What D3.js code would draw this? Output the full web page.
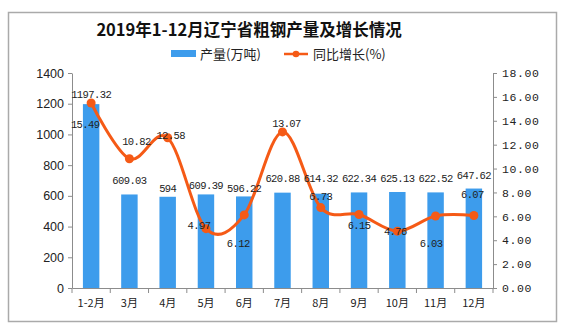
<!DOCTYPE html>
<html><head><meta charset="utf-8">
<script src="https://cdn.jsdelivr.net/npm/d3@7/dist/d3.min.js"></script>
<style>
html,body{margin:0;padding:0;background:#fff;}
svg{display:block;}
</style></head>
<body>
<svg id="chart" width="567" height="331"></svg>
<script>
const categories = ["1-2月","3月","4月","5月","6月","7月","8月","9月","10月","11月","12月"];
const production = [1197.32,609.03,594,609.39,596.22,620.88,614.32,622.34,625.13,622.52,647.62];
const growth = [15.49,10.82,12.58,4.97,6.12,13.07,6.73,6.15,4.76,6.03,6.07];
const leftTicks = [0,200,400,600,800,1000,1200,1400];
const rightTicks = [0,2,4,6,8,10,12,14,16,18];
const title = "2019年1-12月辽宁省粗钢产量及增长情况";
const legendBar = "产量(万吨)";
const legendLine = "同比增长(%)";

// label layout (offsets of label centres from their mark)
const barLabelDy = [-10,-14.5,-8.5,-9.5,-8,-14.5,-15,-14,-13.7,-14,-13.5];
const lineLabelDx = [-6,7,3,-7,-6,4,0,0,-2,-4.5,-1.5];
const lineLabelDy = [21,-17,-2,-3,28,-8.5,-11.5,11,0.5,27,-21.5];

const barColor = "#3d9cec";
const lineColor = "#f55a16";
const axisColor = "#8c8c8c";

const svg = d3.select("#chart");
const pLeft = 72, pRight = 493, pTop = 73, pBottom = 288;

// frame
svg.append("rect").attr("x",8.5).attr("y",12.5).attr("width",548).attr("height",309)
  .attr("fill","#fff").attr("stroke","#aaaaaa").attr("stroke-width",1.5);

const x = d3.scaleBand().domain(categories).range([pLeft,pRight]).paddingInner(0.57).paddingOuter(0.285);
const yL = d3.scaleLinear().domain([0,1400]).range([pBottom,pTop]);
const yR = d3.scaleLinear().domain([0,18]).range([pBottom,pTop]);

// title
svg.append("text").attr("x",249).attr("y",36).attr("text-anchor","middle")
  .attr("font-family","'Noto Sans CJK SC'").attr("font-weight","bold").attr("font-size","16.5px")
  .attr("fill","#111").text(title);

// legend
svg.append("rect").attr("x",171).attr("y",50).attr("width",25).attr("height",7).attr("fill",barColor);
svg.append("text").attr("x",200).attr("y",58.5).attr("font-family","'Noto Sans CJK SC'")
  .attr("font-size","13px").attr("fill","#222").text(legendBar);
svg.append("line").attr("x1",284).attr("x2",308).attr("y1",54).attr("y2",54)
  .attr("stroke",lineColor).attr("stroke-width",2.5);
svg.append("circle").attr("cx",296).attr("cy",54).attr("r",3.3).attr("fill",lineColor);
svg.append("text").attr("x",313).attr("y",58.5).attr("font-family","'Noto Sans CJK SC'")
  .attr("font-size","13px").attr("fill","#222").text(legendLine);

// bars
svg.append("g").selectAll("rect").data(production).join("rect")
  .attr("x",(d,i)=>x(categories[i])).attr("width",x.bandwidth())
  .attr("y",d=>yL(d)).attr("height",d=>pBottom-yL(d)).attr("fill",barColor);

// axes
function styleAxis(g){
  g.select(".domain").attr("stroke",axisColor);
  g.selectAll(".tick line").attr("stroke",axisColor);
}
const gL = svg.append("g").attr("transform",`translate(${pLeft},0)`)
  .call(d3.axisLeft(yL).tickValues(leftTicks).tickFormat(d3.format("d")).tickSize(4).tickPadding(4).tickSizeOuter(0));
styleAxis(gL);
gL.selectAll("text").attr("font-family","'Liberation Sans',Arial").attr("font-size","12.5px").attr("fill","#222");

const gR = svg.append("g").attr("transform",`translate(${pRight},0)`)
  .call(d3.axisRight(yR).tickValues(rightTicks).tickFormat(d3.format(".2f")).tickSize(4).tickPadding(5).tickSizeOuter(0));
styleAxis(gR);
gR.selectAll("text").attr("font-family","'Liberation Mono',monospace").attr("font-size","11.5px")
  .attr("letter-spacing","0.6px").attr("fill","#222");

const gB = svg.append("g").attr("transform",`translate(0,${pBottom})`)
  .call(d3.axisBottom(x).tickSize(0).tickPadding(11).tickSizeOuter(0));
styleAxis(gB);
gB.selectAll("text").attr("font-family","'Noto Sans CJK SC'").attr("font-size","11px").attr("fill","#222");
const bounds = d3.range(categories.length+1).map(i=>pLeft + i*x.step());
gB.selectAll(".btick").data(bounds).join("line").attr("class","btick")
  .attr("x1",d=>d).attr("x2",d=>d).attr("y1",0).attr("y2",5).attr("stroke",axisColor);

// line
const cx = (d,i)=>x(categories[i])+x.bandwidth()/2;
const line = d3.line().x(cx).y(d=>yR(d)).curve(d3.curveCardinal.tension(0));
svg.append("path").datum(growth).attr("d",line).attr("fill","none")
  .attr("stroke",lineColor).attr("stroke-width",3);
svg.append("g").selectAll("circle").data(growth).join("circle")
  .attr("cx",cx).attr("cy",d=>yR(d)).attr("r",4.5).attr("fill",lineColor);

// labels
const lblFont = "'Liberation Mono',monospace";
svg.append("g").selectAll("text").data(production).join("text")
  .attr("x",cx).attr("y",(d,i)=>yL(d)+barLabelDy[i]).attr("dy","0.35em")
  .attr("text-anchor","middle").attr("font-family",lblFont).attr("font-size","10.5px")
  .attr("letter-spacing","-0.6px").attr("fill","#222")
  .text(d=>d);
svg.append("g").selectAll("text").data(growth).join("text")
  .attr("x",(d,i)=>cx(d,i)+lineLabelDx[i]).attr("y",(d,i)=>yR(d)+lineLabelDy[i]).attr("dy","0.35em")
  .attr("text-anchor","middle").attr("font-family",lblFont).attr("font-size","10.5px")
  .attr("letter-spacing","-0.6px").attr("fill","#222")
  .text(d=>d.toFixed(2));
</script>
</body></html>
